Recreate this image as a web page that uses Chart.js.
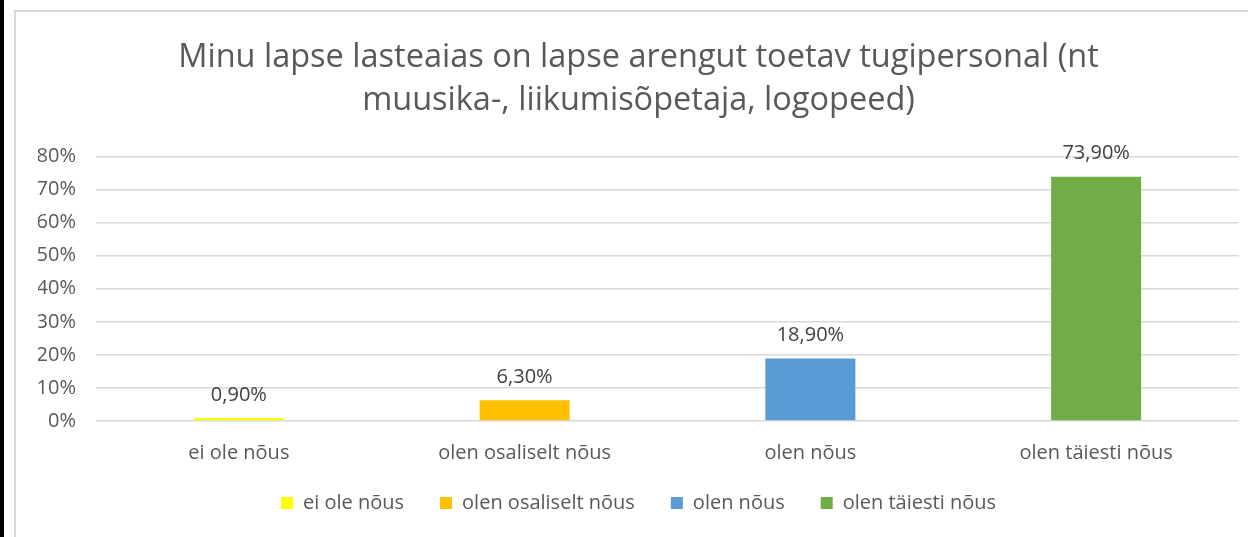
<!DOCTYPE html>
<html>
<head>
<meta charset="utf-8">
<script src="https://cdn.jsdelivr.net/npm/chart.js@4"></script>
<style>
  html, body { margin: 0; padding: 0; background: #fff; overflow: hidden; }
  #strip { position: absolute; left: 0; top: 0; width: 4px; height: 537px; background: #000; }
  #frame { position: absolute; left: 14px; top: 10px; width: 1300px; height: 600px; border: 2px solid #d9d9d9; }
  #wrap { position: absolute; left: 16px; top: 0; width: 1256px; height: 537px; }
</style>
</head>
<body>
<div id="strip"></div>
<div id="frame"></div>
<div id="wrap"><canvas id="chart"></canvas></div>
<script>
const categories = ['ei ole nõus', 'olen osaliselt nõus', 'olen nõus', 'olen täiesti nõus'];
const values = [0.9, 6.3, 18.9, 73.9];
const colors = ['#FFFF00', '#FFC000', '#5B9BD5', '#70AD47'];
const titleLines = ['Minu lapse lasteaias on lapse arengut toetav tugipersonal (nt', 'muusika-, liikumisõpetaja, logopeed)'];

const fontFamily = '"Open Sans", sans-serif';
const textColor = '#595959';

function fmt(v) {
  return v.toFixed(2).replace('.', ',') + '%';
}

// one dataset per category so the legend lists each answer
const datasets = categories.map((c, i) => ({
  label: c,
  data: categories.map((_, j) => (j === i ? values[i] : null)),
  backgroundColor: colors[i],
  borderWidth: 0
}));

// value labels above bars
const valueLabels = {
  id: 'valueLabels',
  afterDatasetsDraw(chart) {
    const ctx = chart.ctx;
    ctx.save();
    ctx.font = '20px ' + fontFamily;
    ctx.fillStyle = '#404040';
    ctx.textAlign = 'center';
    ctx.textBaseline = 'bottom';
    chart.data.datasets.forEach((ds, i) => {
      const meta = chart.getDatasetMeta(i);
      meta.data.forEach((bar, j) => {
        if (ds.data[j] == null) return;
        ctx.fillText(fmt(ds.data[j]), bar.x, bar.y - 13);
      });
    });
    ctx.restore();
  }
};

new Chart(document.getElementById('chart'), {
  type: 'bar',
  data: { labels: categories, datasets: datasets },
  plugins: [valueLabels],
  options: {
    responsive: true,
    maintainAspectRatio: false,
    animation: false,
    layout: { padding: { left: 22, right: 33, top: 0, bottom: 14 } },
    datasets: {
      bar: { skipNull: true, categoryPercentage: 1, barPercentage: 0.315 }
    },
    plugins: {
      title: {
        display: true,
        text: titleLines,
        color: textColor,
        font: { family: fontFamily, size: 32.5, weight: 'normal', lineHeight: 1.3 },
        padding: { top: 37, bottom: 35 }
      },
      legend: {
        position: 'bottom',
        labels: {
          color: textColor,
          font: { family: fontFamily, size: 20 },
          boxWidth: 12,
          boxHeight: 12,
          padding: 16,
          // wider gaps between entries without a taller legend box
          generateLabels(chart) {
            const items = Chart.defaults.plugins.legend.labels.generateLabels(chart);
            items.forEach((it, i) => {
              if (i < items.length - 1) it.text += '\u2002\u2002';
            });
            return items;
          }
        }
      },
      tooltip: { enabled: false }
    },
    scales: {
      x: {
        grid: { display: false },
        border: { display: false },
        ticks: { color: textColor, font: { family: fontFamily, size: 20 }, padding: 12 }
      },
      y: {
        min: 0,
        max: 80,
        afterFit(scale) { scale.width = 58; },
        ticks: {
          stepSize: 10,
          color: textColor,
          font: { family: fontFamily, size: 20 },
          padding: 20,
          callback: v => v + '%'
        },
        grid: { color: '#d9d9d9', lineWidth: 1.5, drawTicks: false },
        border: { display: false }
      }
    }
  }
});
</script>
</body>
</html>
